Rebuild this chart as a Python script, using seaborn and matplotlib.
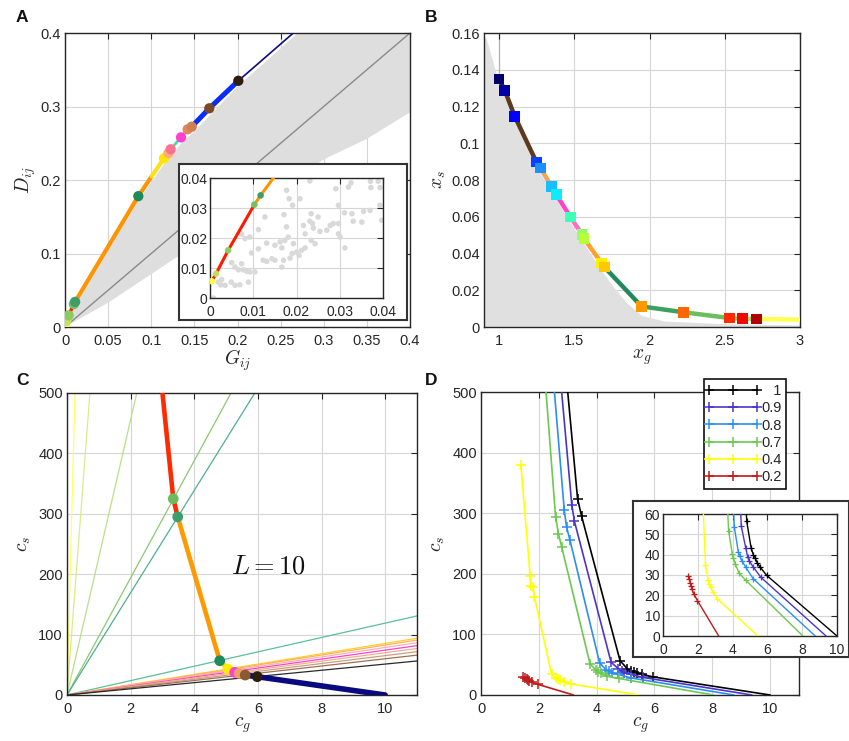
import matplotlib
matplotlib.use("Agg")
import matplotlib.pyplot as plt
from matplotlib.ticker import FuncFormatter
import pandas as pd
import seaborn as sns

# ---------------- data ----------------
# A: frontier in the (G_ij, D_ij) plane
a_front_g = [0.0004, 0.0014, 0.0042, 0.01025, 0.0117, 0.085, 0.1005, 0.1148,
             0.1198, 0.1225, 0.1345, 0.1422, 0.1469, 0.1673, 0.201, 0.2647]
a_front_d = [0.0056, 0.0081, 0.0159, 0.0311, 0.0342, 0.178, 0.205, 0.2295,
             0.2363, 0.2418, 0.258, 0.269, 0.2725, 0.2975, 0.335, 0.4]
a_seg_colors = ['#ff1a00', '#ff1a00', '#ff1a00', '#ff9400', '#ff9400', '#ff9400',
                '#ffe01a', '#ffc040', '#ff8080', '#3fe0b0', '#ff7fd0', '#e09060',
                '#0a2cff', '#0a2cff', '#0a0a8c']
a_seg_widths = [2.5, 2.5, 2.5, 3, 3, 3, 3, 3, 3, 2, 2.5, 3, 3.6, 3.6, 1.2]
a_mark_idx = [0, 1, 2, 3, 4, 5, 7, 8, 9, 10, 11, 12, 13, 14]
a_mark_colors = ['#ffff40', '#c0e060', '#8ccc5a', '#74c060', '#3d9e68', '#1f8a5c',
                 '#ffe600', '#ffb070', '#ff7090', '#ff40d0', '#e0885a', '#d08050',
                 '#7a4a24', '#2e1c0c']
# outline of the cloud of admissible pairs
a_cloud_g = [0.0, 0.012, 0.085, 0.115, 0.135, 0.15, 0.2, 0.27, 0.4, 0.4,
             0.35, 0.3, 0.2, 0.1, 0.05, 0.0]
a_cloud_d = [0.0, 0.029, 0.172, 0.222, 0.25, 0.266, 0.327, 0.4, 0.4, 0.292,
             0.256, 0.228, 0.15, 0.072, 0.033, 0.0]
# individual pairs near the origin (inset)
a_dots_g = [0.0231, 0.0291, 0.0320, 0.0326, 0.0371, 0.0389, 0.0372, 0.0393, 0.0177, 0.0183,
            0.0208, 0.0191, 0.0127, 0.0171, 0.0234, 0.0250, 0.0231, 0.0297, 0.0311, 0.0328,
            0.0355, 0.0370, 0.0393, 0.0397, 0.0331, 0.0351, 0.0297, 0.0285, 0.0237, 0.0239,
            0.0216, 0.0220, 0.0177, 0.0254, 0.0270, 0.0278, 0.0297, 0.0234, 0.0181, 0.0173,
            0.0162, 0.0131, 0.0150, 0.0166, 0.0193, 0.0200, 0.0212, 0.0220, 0.0243, 0.0112,
            0.0096, 0.0112, 0.0092, 0.0081, 0.0131, 0.0123, 0.0143, 0.0150, 0.0170, 0.0185,
            0.0190, 0.0206, 0.0166, 0.0073, 0.0050, 0.0058, 0.0066, 0.0077, 0.0085, 0.0092,
            0.0104, 0.0089, 0.0069, 0.0058, 0.0049, 0.0035, 0.0025, 0.0027, 0.0019, 0.0312,
            0.0301, 0.0073, 0.0008]
a_dots_d = [0.0390, 0.0364, 0.0370, 0.0384, 0.0389, 0.0389, 0.0368, 0.0368, 0.0359, 0.0331,
            0.0331, 0.0309, 0.0270, 0.0278, 0.0281, 0.0270, 0.0256, 0.0309, 0.0284, 0.0281,
            0.0289, 0.0292, 0.0309, 0.0259, 0.0256, 0.0253, 0.0248, 0.0248, 0.0248, 0.0233,
            0.0242, 0.0214, 0.0237, 0.0222, 0.0226, 0.0242, 0.0214, 0.0192, 0.0203, 0.0192,
            0.0187, 0.0183, 0.0176, 0.0167, 0.0181, 0.0153, 0.0159, 0.0167, 0.0181, 0.0164,
            0.0150, 0.0228, 0.0203, 0.0198, 0.0122, 0.0126, 0.0131, 0.0126, 0.0126, 0.0133,
            0.0148, 0.0142, 0.0103, 0.0114, 0.0118, 0.0103, 0.0094, 0.0094, 0.0089, 0.0087,
            0.0087, 0.0053, 0.0044, 0.0042, 0.0053, 0.0042, 0.0044, 0.0062, 0.0053, 0.0167,
            0.0203, 0.0213, 0.0000]

# B: optimal (x_g, x_s) path
b_xg = [1.0, 1.038, 1.104, 1.248, 1.275, 1.348, 1.381, 1.474, 1.552, 1.565,
        1.681, 1.699, 1.947, 2.228, 2.53, 2.616, 2.712, 3.0]
b_xs = [0.135, 0.1288, 0.1147, 0.0898, 0.0865, 0.0766, 0.072, 0.0599, 0.0503, 0.0481,
        0.0348, 0.0327, 0.0112, 0.008, 0.0049, 0.0045, 0.0044, 0.004]
b_seg_colors = ['#3b2412', '#5c3a1e', '#5c3a1e', '#5c3a1e', '#f5a35c', '#f5a35c',
                '#ff44c4', '#ff6ec0', '#ff9a30', '#ffa030', '#ffa030', '#218a5a',
                '#3ea060', '#6abf5c', '#8fcc5c', '#b0d85a', '#ffff55']
b_square_colors = ['#00006a', '#0000a8', '#0000ff', '#0a40ff', '#1e8fff', '#16c0ff',
                   '#10eaff', '#40ffb8', '#90ff68', '#b8ff38', '#ffee00', '#ffc800',
                   '#ff9900', '#ff6600', '#ff2a00', '#ee0a00', '#b00000']
b_dash_xg = [1.0, 1.0]
b_dash_xs = [0.135, 0.16]
b_cloud_xg = [0.9, 0.9, 0.918, 1.0, 1.038, 1.104, 1.248, 1.348, 1.474, 1.552, 1.681,
              1.75, 1.85, 1.95, 2.1, 2.5, 3.0, 3.0]
b_cloud_xs = [0.0, 0.157, 0.157, 0.133, 0.126, 0.112, 0.087, 0.074, 0.057, 0.047, 0.031,
              0.023, 0.013, 0.006, 0.003, 0.0015, 0.0008, 0.0]

# C: frontier in the (c_g, c_s) plane for L = 10
c_front_cg = [3.0, 3.34, 3.48, 4.8, 5.06, 5.27, 5.41, 5.6, 5.98, 10.0]
c_front_cs = [500, 325, 295, 56.8, 43, 37.5, 35.8, 33, 30.3, 0]
c_seg_colors = ['#ff2a00', '#ff2a00', '#ff9900', '#ffd000', '#ff50c0', '#f09070',
                '#a06a40', '#0a0a80', '#0a0a80']
c_seg_widths = [3.3, 3.3, 3.3, 3.3, 3.3, 3.3, 3.3, 4, 4]
c_mark_colors = ['#6dbb5f', '#3c9e6c', '#1e8a5e', '#ffee00', '#ff40d0', '#f0a070',
                 '#8a5a30', '#2e1c0c']
c_ray_slopes = [2000, 694, 228, 97, 84.7, 11.9, 8.54, 8.27, 7.87, 7.43, 7.0, 6.52, 6.0, 5.12]
c_ray_colors = ['#ffff66', '#dbeb8a', '#b8e08a', '#8cc873', '#4fb08a', '#5cbf9a',
                '#ffd11a', '#ffb066', '#ffb0b0', '#ff40d0', '#f0b090', '#c8a080',
                '#a07050', '#2a2a2a']

# D: frontiers for several values of the parameter
d_labels = ['1', '0.9', '0.8', '0.7', '0.4', '0.2']
d_cg = [
    [3.0, 3.34, 3.48, 4.81, 5.06, 5.2, 5.29, 5.41, 5.58, 5.96, 10.0],
    [2.79, 3.14, 3.23, 4.5, 4.75, 4.87, 4.96, 5.19, 5.62, 9.37],
    [2.54, 2.88, 2.96, 3.08, 4.1, 4.33, 4.42, 4.54, 4.75, 5.19, 8.75],
    [2.25, 2.58, 2.68, 2.79, 3.77, 3.98, 4.04, 4.15, 4.37, 4.77, 8.04],
    [1.38, 1.70, 1.73, 1.79, 1.85, 2.44, 2.60, 2.65, 2.73, 2.88, 3.13, 5.46],
    [1.46, 1.52, 1.58, 1.62, 1.66, 1.77, 1.98, 3.2],
]
d_cs = [
    [500, 324, 295, 56.5, 43.5, 39.7, 38.5, 36.0, 33.9, 29.8, 0],
    [500, 314, 287, 54, 43.5, 38.8, 36.9, 33.9, 28.9, 0],
    [500, 305, 277, 255, 53.4, 41.3, 39.2, 36.9, 33.9, 28.1, 0],
    [500, 294, 266, 244.5, 51.6, 40.5, 38.5, 35.5, 30.9, 27.3, 0],
    [380, 197, 180, 179, 162, 34.7, 27.3, 25.6, 24.0, 21.5, 18.2, 0],
    [29.5, 27.8, 26.0, 24.8, 23.1, 20.7, 17.4, 0],
]
d_colors = ['#000000', '#4b35c8', '#2b8ff0', '#6cc94e', '#ffff00', '#c01a1a']

# ---------------- style ----------------
sns.set_theme(style='white')
plt.rcParams['font.family'] = ['Liberation Sans', 'DejaVu Sans']
plt.rcParams['mathtext.fontset'] = 'cm'

W, H = 849, 741
fig = plt.figure(figsize=(W / 100, H / 100), dpi=100)
fig.patch.set_facecolor('white')


def rect(l, t, r, b):
    return [l / W, 1 - b / H, (r - l) / W, (b - t) / H]


fmt = FuncFormatter(lambda v, p: f'{v:g}')
INK = '#262626'
TICK = 10.5


def style(ax, xlim, ylim, xticks, yticks, lab=TICK):
    ax.set_xlim(*xlim)
    ax.set_ylim(*ylim)
    ax.set_xticks(xticks)
    ax.set_yticks(yticks)
    ax.xaxis.set_major_formatter(fmt)
    ax.yaxis.set_major_formatter(fmt)
    ax.grid(True, color='#d6d6d6', lw=0.8)
    ax.set_axisbelow(True)
    ax.tick_params(direction='in', top=True, right=True, length=4, width=0.8,
                   labelsize=lab, colors=INK)
    ax.tick_params(axis='x', pad=5)
    ax.tick_params(axis='y', pad=3)
    for s in ax.spines.values():
        s.set_linewidth(1.0)
        s.set_color(INK)
        s.set_visible(True)
    ax.set_facecolor('white')


def segments(ax, xs, ys, colors, widths, z=3):
    for i, col in enumerate(colors):
        sns.lineplot(x=xs[i:i + 2], y=ys[i:i + 2], ax=ax, color=col, lw=widths[i],
                     sort=False, estimator=None, zorder=z, solid_capstyle='round')


def dots(ax, xs, ys, colors, size, marker='o', z=4):
    df = pd.DataFrame({'x': xs, 'y': ys, 'k': [str(i) for i in range(len(xs))]})
    sns.scatterplot(data=df, x='x', y='y', hue='k',
                    palette={str(i): c for i, c in enumerate(colors)},
                    s=size, marker=marker, edgecolor='none', legend=False,
                    ax=ax, zorder=z)


def frame_box(r):
    box = fig.add_axes(r)
    box.set_xticks([])
    box.set_yticks([])
    box.set_facecolor('white')
    for s in box.spines.values():
        s.set_linewidth(1.5)
        s.set_color('#333333')
        s.set_visible(True)
    return box


# ---------------- panel A ----------------
axA = fig.add_axes(rect(65, 33, 410, 327))
style(axA, (0, 0.4), (0, 0.4), [0, 0.05, 0.1, 0.15, 0.2, 0.25, 0.3, 0.35, 0.4],
      [0, 0.1, 0.2, 0.3, 0.4])
axA.fill(a_cloud_g, a_cloud_d, color='#dedede', lw=0, zorder=1)
sns.lineplot(x=[0, 0.4], y=[0, 0.4], ax=axA, color='#8a8a8a', lw=1.0, zorder=2)
segments(axA, a_front_g, a_front_d, a_seg_colors, a_seg_widths)
dots(axA, [a_front_g[i] for i in a_mark_idx], [a_front_d[i] for i in a_mark_idx],
     a_mark_colors, 55)
axA.set_xlabel(r'$G_{ij}$', fontsize=14, labelpad=0, color=INK)
axA.set_ylabel(r'$D_{ij}$', fontsize=14, labelpad=2, color=INK)

frame_box(rect(179, 164, 407, 320))
axAi = fig.add_axes(rect(210, 178, 383, 298))
style(axAi, (0, 0.04), (0, 0.04), [0, 0.01, 0.02, 0.03, 0.04],
      [0, 0.01, 0.02, 0.03, 0.04], lab=10)
axAi.tick_params(axis='x', pad=5)
axAi.tick_params(axis='y', pad=2)
sns.scatterplot(x=a_dots_g, y=a_dots_d, ax=axAi, color='#d9d9d9', s=16,
                edgecolor='none', zorder=1)
segments(axAi, a_front_g, a_front_d, a_seg_colors, [2.2] * len(a_seg_colors))
dots(axAi, [a_front_g[i] for i in a_mark_idx], [a_front_d[i] for i in a_mark_idx],
     a_mark_colors, 22)
axAi.set_xlabel('')
axAi.set_ylabel('')

# ---------------- panel B ----------------
axB = fig.add_axes(rect(484, 33, 800, 327))
style(axB, (0.9, 3), (0, 0.16), [1, 1.5, 2, 2.5, 3],
      [0, 0.02, 0.04, 0.06, 0.08, 0.1, 0.12, 0.14, 0.16])
axB.fill(b_cloud_xg, b_cloud_xs, color='#e0e0e0', lw=0, zorder=1)
sns.lineplot(x=b_dash_xg, y=b_dash_xs, ax=axB, color='#222222', lw=1.5,
             zorder=2).lines[-1].set_dashes((3, 2))
segments(axB, b_xg, b_xs, b_seg_colors, [3.2] * len(b_seg_colors))
dots(axB, b_xg[:17], b_xs[:17], b_square_colors, 60, marker='s')
axB.set_xlabel(r'$x_g$', fontsize=14, labelpad=0, color=INK)
axB.set_ylabel(r'$x_s$', fontsize=14, labelpad=2, color=INK)

# ---------------- panel C ----------------
axC = fig.add_axes(rect(67, 393, 417, 695))
style(axC, (0, 11), (0, 500), [0, 2, 4, 6, 8, 10], [0, 100, 200, 300, 400, 500])
for k, col in zip(c_ray_slopes, c_ray_colors):
    sns.lineplot(x=[0, 11], y=[0, 11 * k], ax=axC, color=col, lw=0.9, zorder=2)
segments(axC, c_front_cg, c_front_cs, c_seg_colors, c_seg_widths)
dots(axC, c_front_cg[1:9], c_front_cs[1:9], c_mark_colors, 60)
axC.text(5.15, 212, r'$L = 10$', fontsize=19, va='center', ha='left', color='#111111')
axC.set_xlabel(r'$c_g$', fontsize=14, labelpad=0, color=INK)
axC.set_ylabel(r'$c_s$', fontsize=14, labelpad=4, color=INK)

# ---------------- panel D ----------------
axD = fig.add_axes(rect(481, 392, 799, 695))
style(axD, (0, 11), (0, 500), [0, 2, 4, 6, 8, 10], [0, 100, 200, 300, 400, 500])
handles = []
for xs, ys, col in zip(d_cg, d_cs, d_colors):
    first = 1 if ys[0] >= 500 else 0
    sns.lineplot(x=xs, y=ys, ax=axD, color=col, lw=1.2, sort=False, estimator=None,
                 marker='+', markersize=7, markeredgewidth=1.1, markeredgecolor=col,
                 markevery=slice(first, len(xs) - 1), zorder=3)
    handles.append(axD.lines[-1])
axD.set_xlabel(r'$c_g$', fontsize=14, labelpad=0, color=INK)
axD.set_ylabel(r'$c_s$', fontsize=14, labelpad=4, color=INK)

# pad the shorter labels with figure/punctuation spaces so the numbers line up right
shown = [lab if len(lab) > 1 else '\u2007\u2008' + lab for lab in d_labels]
leg = axD.legend(handles, shown, loc='upper left',
                 bbox_to_anchor=(704 / W, 1 - 379 / H), bbox_transform=fig.transFigure,
                 frameon=True, fancybox=False, framealpha=1, edgecolor='#111111',
                 fontsize=10.5, handlelength=3.3, handletextpad=0.25, borderpad=0.35,
                 labelspacing=0.22, borderaxespad=0)
leg.get_frame().set_linewidth(1.2)
for h in leg.legend_handles:
    h.set_markevery(None)
leg.set_zorder(10)

frame_box(rect(633, 501, 849, 657))
axDi = fig.add_axes(rect(663, 514, 837, 636))
style(axDi, (0, 10), (0, 60), [0, 2, 4, 6, 8, 10], [0, 10, 20, 30, 40, 50, 60], lab=10)
axDi.tick_params(axis='x', pad=5)
axDi.tick_params(axis='y', pad=2)
for xs, ys, col in zip(d_cg, d_cs, d_colors):
    sns.lineplot(x=xs, y=ys, ax=axDi, color=col, lw=1.0, sort=False, estimator=None,
                 marker='+', markersize=4, markeredgewidth=0.9, markeredgecolor=col,
                 markevery=slice(0, len(xs) - 1), zorder=3)
axDi.set_xlabel('')
axDi.set_ylabel('')

# panel letters
for x, y, s in [(16, 10, 'A'), (425, 10, 'B'), (16, 373, 'C'), (425, 373, 'D')]:
    fig.text(x / W, 1 - y / H, s, fontsize=12.5, fontweight='bold', ha='left', va='top',
             color='#111111')

fig.savefig('out.png', dpi=100, facecolor='white')
